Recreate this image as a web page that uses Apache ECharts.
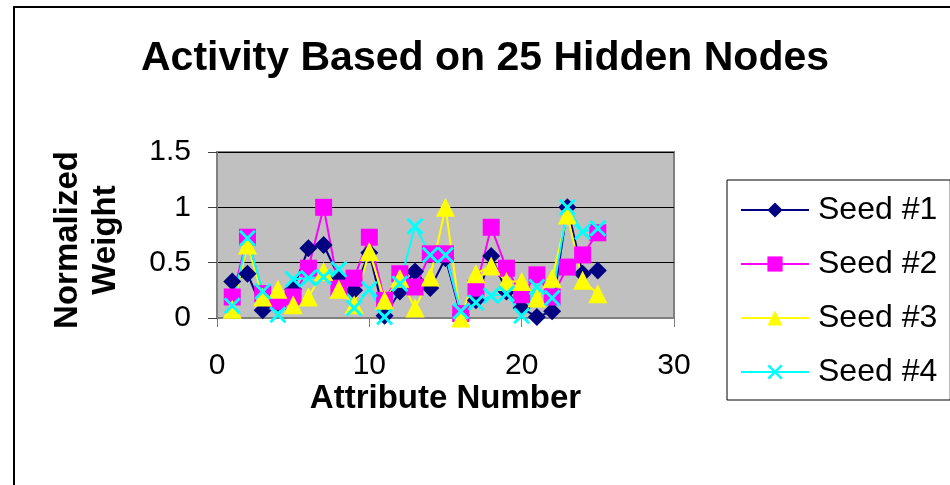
<!DOCTYPE html>
<html>
<head>
<meta charset="utf-8">
<script src="https://cdn.jsdelivr.net/npm/echarts@6/dist/echarts.min.js"></script>
<style>
  html, body { margin: 0; padding: 0; background: #ffffff; }
  #chart { width: 950px; height: 485px; }
</style>
</head>
<body>
<div id="chart"></div>
<script>
// Attribute numbers 1..25
const attributes = [1,2,3,4,5,6,7,8,9,10,11,12,13,14,15,16,17,18,19,20,21,22,23,24,25];

// Normalized weights per random seed
const seed1 = [0.33,0.40,0.07,0.14,0.26,0.63,0.66,0.37,0.25,0.59,0.02,0.24,0.42,0.27,0.54,0.03,0.16,0.56,0.24,0.09,0.01,0.06,1.00,0.40,0.43];
const seed2 = [0.19,0.73,0.22,0.15,0.19,0.45,1.00,0.27,0.36,0.73,0.16,0.40,0.28,0.58,0.58,0.04,0.27,0.82,0.45,0.21,0.39,0.19,0.46,0.57,0.77];
const seed3 = [0.08,0.66,0.19,0.26,0.12,0.19,0.42,0.26,0.12,0.60,0.16,0.36,0.09,0.37,1.00,0.00,0.40,0.47,0.33,0.33,0.18,0.36,0.93,0.34,0.22];
const seed4 = [0.11,0.72,0.24,0.03,0.35,0.36,0.37,0.44,0.09,0.26,0.01,0.31,0.83,0.57,0.57,0.06,0.14,0.20,0.22,0.02,0.28,0.18,1.00,0.78,0.81];

const seriesNames = ['Seed #1', 'Seed #2', 'Seed #3', 'Seed #4'];
const xTicks = { min: 0, max: 30, step: 10 };
const yTicks = { min: 0, max: 1.5, step: 0.5 };

const FONT = '"Liberation Sans", Arial, sans-serif';
// filled "x" outline used as the marker for the fourth seed
const CROSS = 'path://M0,1.2 L1.2,0 L5,3.8 L8.8,0 L10,1.2 L6.2,5 L10,8.8 L8.8,10 L5,6.2 L1.2,10 L0,8.8 L3.8,5 Z';

function pairs(values) {
  return attributes.map((a, i) => [a, values[i]]);
}

function lineSeries(name, values, color, symbol, size) {
  return {
    name: name,
    type: 'line',
    data: pairs(values),
    symbol: symbol,
    symbolSize: size,
    showAllSymbol: true,
    lineStyle: { color: color, width: 2 },
    itemStyle: { color: color, borderWidth: 0 },
    emphasis: { disabled: true },
    animation: false
  };
}

const chart = echarts.init(document.getElementById('chart'), null, { renderer: 'canvas' });

chart.setOption({
  backgroundColor: '#ffffff',
  animation: false,
  title: {
    text: 'Activity Based on 25 Hidden Nodes',
    left: 480,
    textAlign: 'center',
    top: 33,
    textStyle: { fontFamily: FONT, fontWeight: 'bold', fontSize: 41, color: '#000' }
  },
  grid: {
    left: 217, right: 276, top: 152, bottom: 167,
    show: true,
    backgroundColor: '#C0C0C0',
    borderColor: '#808080',
    borderWidth: 2
  },
  legend: {
    orient: 'vertical',
    left: 727,
    top: 180,
    padding: [12, 13, 10, 13],
    itemWidth: 68,
    itemHeight: 19,
    itemGap: 18,
    borderColor: '#000',
    borderWidth: 1,
    backgroundColor: '#ffffff',
    data: seriesNames,
    textStyle: { fontFamily: FONT, fontSize: 32, color: '#000', lineHeight: 36, padding: [0, 0, 0, 4] }
  },
  xAxis: {
    type: 'value',
    min: xTicks.min, max: xTicks.max, interval: xTicks.step,
    name: 'Attribute Number',
    nameLocation: 'middle',
    nameGap: 64,
    nameTextStyle: { fontFamily: FONT, fontWeight: 'bold', fontSize: 33, color: '#000' },
    axisLine: { lineStyle: { color: '#808080', width: 2 } },
    axisTick: { show: true, length: 9, lineStyle: { color: '#808080', width: 1 } },
    axisLabel: { fontFamily: FONT, fontSize: 30, color: '#000', margin: 33 },
    splitLine: { show: false }
  },
  yAxis: {
    type: 'value',
    min: yTicks.min, max: yTicks.max, interval: yTicks.step,
    axisLine: { show: true, lineStyle: { color: '#808080', width: 2 } },
    axisTick: { show: true, length: 9, lineStyle: { color: '#404040', width: 1 } },
    axisLabel: {
      fontFamily: FONT, fontSize: 30, color: '#000', margin: 26,
      formatter: v => String(Math.round(v * 10) / 10)
    },
    splitLine: { show: true, lineStyle: { color: '#000', width: 1 } }
  },
  graphic: [
    {
      type: 'rect',
      silent: true,
      shape: { x: 14, y: 7, width: 1000, height: 600 },
      style: { fill: 'none', stroke: '#000', lineWidth: 2 },
      z: 100
    },
    {
      type: 'text',
      silent: true,
      x: 87,
      y: 240,
      rotation: Math.PI / 2,
      style: {
        text: 'Normalized\nWeight',
        font: 'bold 33px ' + FONT,
        fill: '#000',
        align: 'center',
        verticalAlign: 'middle',
        lineHeight: 38
      }
    }
  ],
  series: [
    lineSeries(seriesNames[0], seed1, '#000080', 'diamond', 18),
    lineSeries(seriesNames[1], seed2, '#FF00FF', 'rect', 17),
    lineSeries(seriesNames[2], seed3, '#FFFF00', 'triangle', 19),
    lineSeries(seriesNames[3], seed4, '#00FFFF', CROSS, 17)
  ]
});
</script>
</body>
</html>
